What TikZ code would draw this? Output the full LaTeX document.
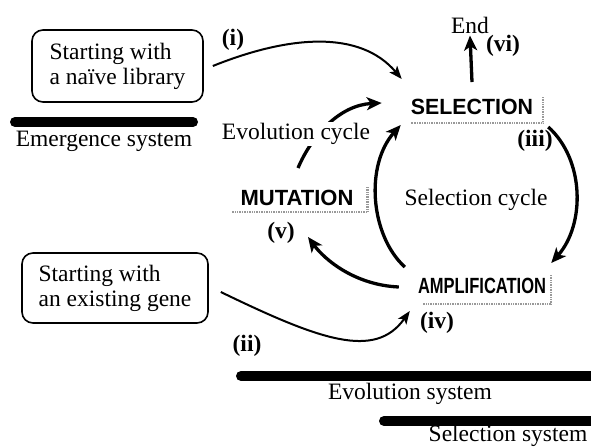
\documentclass[tikz,border=0pt]{standalone}
\usepackage{fontspec}
\setmainfont{Liberation Serif}
\newfontfamily\stagefont{Liberation Sans}
\usetikzlibrary{arrows.meta}

\tikzset{
	startbox/.style={draw, line width=1.6pt, rounded corners=11pt, align=left, inner xsep=15pt, inner ysep=2pt},
	stage/.style={font=\stagefont\bfseries\fontsize{22}{24}\selectfont, inner sep=0pt},
	shadowline/.style={gray!80, line width=2.4pt, dash pattern=on 1pt off 0.7pt},
	tag/.style={font=\bfseries\fontsize{23.5}{25}\selectfont},
	bar/.style={line width=10pt, line cap=round},
	cycle/.style={line width=3.3pt, -{Stealth[length=15pt,width=13pt,inset=4pt]}},
	feed/.style={line width=2pt, -{Stealth[length=13pt,width=10pt,inset=3pt]}},
}

\begin{document}
\begin{tikzpicture}[x=1pt,y=-1pt, font=\fontsize{23.5}{25}\selectfont, inner sep=2pt]
	\useasboundingbox (0,0) rectangle (591,447);
	% starting points
	\node [startbox, minimum width=171pt, minimum height=72pt] (lib) at (117.5,66) {Starting with\\a naïve library};
	\node [startbox, minimum width=186pt, minimum height=70pt] (gene) at (115,288) {Starting with\\an existing gene};
	% stages
	\node [stage] (sel) at (472,107) {\scalebox{0.97}[1]{SELECTION}};
	\node [stage] (mut) at (297,198) {MUTATION};
	\node [stage] (amp) at (482,286) {\scalebox{0.75}[1]{AMPLIFICATION}};
	\draw [shadowline] ([shift={(10pt,2pt)}]sel.north east) |- ([yshift=-8pt]sel.south west);
	\draw [shadowline] ([shift={(14pt,3pt)}]mut.north east) |- ([shift={(-8pt,-6pt)}]mut.south west);
	\draw [shadowline] ([shift={(5pt,3pt)}]amp.north east) |- ([shift={(5pt,-10pt)}]amp.south west);
	% labels
	\node (end) at (470,25) {End};
	\node [tag] (vi) at (503,46) {(vi)};
	\node [tag] (i) at (233,40) {(i)};
	\node [tag] (ii) at (247,346) {(ii)};
	\node [tag] (iii) at (535,141) {(iii)};
	\node [tag] (iv) at (437,323) {(iv)};
	\node [tag] (v) at (281,233) {(v)};
	\node (selcyc) at (476,200) {Selection cycle};
	% arrows
	\draw [feed] ([shift={(9pt,0pt)}]lib.east) .. controls (290,35) and (360,30) .. ([shift={(-9pt,20pt)}]sel.north west);
	\draw [feed] ([shift={(12pt,-4pt)}]gene.east) .. controls (320,340) and (375,360) .. ([shift={(-8pt,-17pt)}]amp.south west);
	\draw [cycle] ([yshift=17pt]sel.north) -- (end.south);
	\draw [cycle] ([shift={(15pt,-12pt)}]sel.south east) .. controls (585,160) and (585,225) .. ([shift={(5pt,15pt)}]amp.north east);
	\draw [cycle] ([shift={(-13pt,11pt)}]amp.north west) .. controls (370,235) and (365,165) .. ([shift={(-10pt,-10pt)}]sel.south west);
	\draw [cycle] ([shift={(-19pt,-1pt)}]amp.west) .. controls (355,285) and (325,260) .. ([shift={(11pt,-31pt)}]mut.south);
	\draw [cycle] ([shift={(1pt,22pt)}]mut.north) .. controls (312,135) and (340,105) .. ([shift={(-29pt,4pt)}]sel.west);
	\node [fill=white, inner sep=1pt] (evocyc) at (296,134) {Evolution cycle};
	% systems
	\draw [bar] (15,122) -- (193,122);
	\node (emsys) at (104,141) {Emergence system};
	\draw [bar] (241,376) -- (600,376);
	\node (evsys) at (410,394) {Evolution system};
	\draw [bar] (384,421) -- (600,421);
	\node (slsys) at (508,436) {Selection system};
\end{tikzpicture}
\end{document}
